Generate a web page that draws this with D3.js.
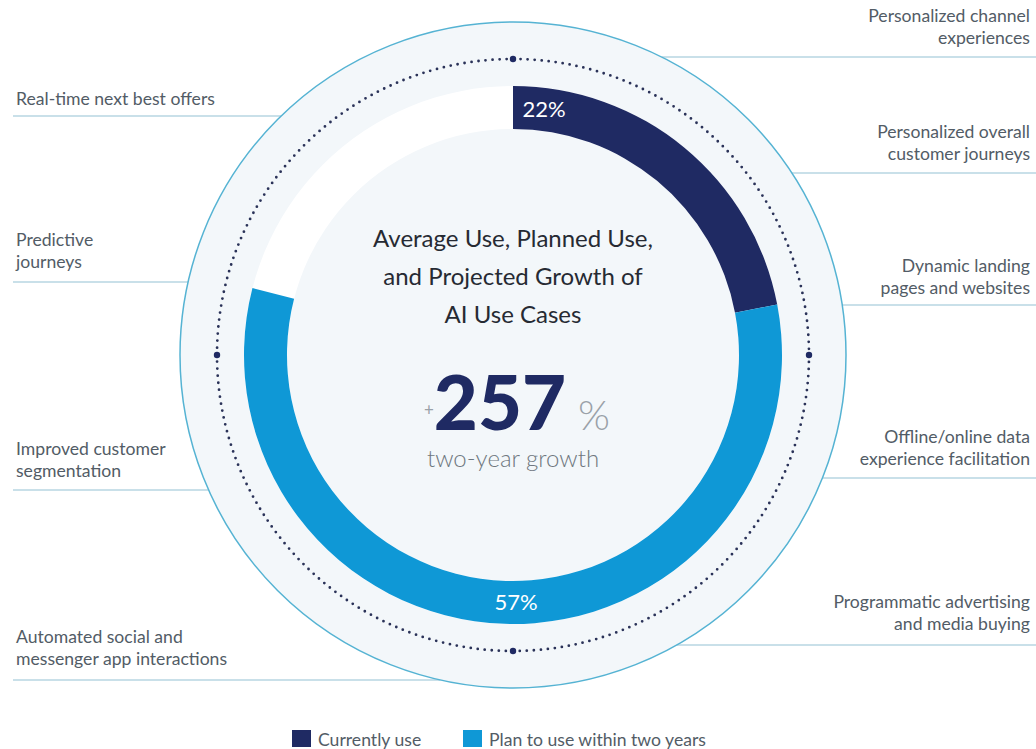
<!DOCTYPE html>
<html>
<head>
<meta charset="utf-8">
<script src="https://cdn.jsdelivr.net/npm/d3@7/dist/d3.min.js"></script>
<style>
  html, body { margin: 0; padding: 0; background: #ffffff; }
  svg { display: block; }
  text { font-family: Lato, "Open Sans", sans-serif; }
</style>
</head>
<body>
<svg id="chart" width="1036" height="749"></svg>
<script>
// ---- data ----
const seriesNames = ["Currently use", "Plan to use within two years"];
const seriesValues = [22, 57];           // percent of AI use cases
const growthValue = 257;                 // projected two-year growth, percent
const titleLines = ["Average Use, Planned Use,", "and Projected Growth of", "AI Use Cases"];
const growthCaption = "two-year growth";
const leftUseCases = [
  ["Real-time next best offers"],
  ["Predictive", "journeys"],
  ["Improved customer", "segmentation"],
  ["Automated social and", "messenger app interactions"]
];
const rightUseCases = [
  ["Personalized channel", "experiences"],
  ["Personalized overall", "customer journeys"],
  ["Dynamic landing", "pages and websites"],
  ["Offline/online data", "experience facilitation"],
  ["Programmatic advertising", "and media buying"]
];

// ---- layout ----
const W = 1036, H = 749;
const cx = 513, cy = 355;
const rOuter = 333, rDots = 296, rRingOut = 269, rRingIn = 226;
const leftRuleY = [116, 282, 490, 680];
const leftTextY = [105, 246, 455, 643];
const rightRuleY = [57, 173, 305, 478, 645];
const rightTextY = [22, 138, 272, 443, 608];
const lineGap = 21.5;
const labelSize = 17.6;

const colors = ["#1f2a63", "#0f98d6"];
const labelColor = "#525c66";
const ruleColor = "#b7d6e2";

const svg = d3.select("#chart");

// callout rules, drawn first so the disc sits on top of them
const edgeX = (y, side) => cx + side * Math.sqrt(Math.max(0, rOuter * rOuter - (y - cy) * (y - cy)));
const rules = svg.append("g").attr("stroke", ruleColor).attr("stroke-width", 1.5);
leftRuleY.forEach(y => rules.append("line").attr("x1", 13).attr("x2", edgeX(y, -1)).attr("y1", y).attr("y2", y));
rightRuleY.forEach(y => rules.append("line").attr("x1", edgeX(y, 1)).attr("x2", W).attr("y1", y).attr("y2", y));

// callout texts
const labelG = svg.append("g").attr("fill", labelColor).attr("font-size", labelSize);
leftUseCases.forEach((lines, i) => {
  const t = labelG.append("text").attr("x", 16).attr("y", leftTextY[i]).attr("text-anchor", "start");
  lines.forEach((s, j) => t.append("tspan").attr("x", 16).attr("y", leftTextY[i] + j * lineGap).text(s));
});
rightUseCases.forEach((lines, i) => {
  const t = labelG.append("text").attr("x", 1030).attr("y", rightTextY[i]).attr("text-anchor", "end");
  lines.forEach((s, j) => t.append("tspan").attr("x", 1030).attr("y", rightTextY[i] + j * lineGap).text(s));
});

// disc
const g = svg.append("g").attr("transform", `translate(${cx},${cy})`);
g.append("circle").attr("r", rOuter).attr("fill", "#f3f7fa").attr("stroke", "#55b3d3").attr("stroke-width", 1.5);

// dotted guide ring with cardinal markers
g.append("circle").attr("r", rDots).attr("fill", "none")
  .attr("stroke", "#2a3258").attr("stroke-width", 2.8)
  .attr("stroke-linecap", "round")
  .attr("stroke-dasharray", `0 ${(2 * Math.PI * rDots / 264).toFixed(3)}`);
[[0, -rDots], [rDots, 0], [0, rDots], [-rDots, 0]].forEach(([x, y]) =>
  g.append("circle").attr("cx", x).attr("cy", y).attr("r", 3.2).attr("fill", "#1f2a63"));

// ring track and value arcs
const angle = d3.scaleLinear().domain([0, 100]).range([0, 2 * Math.PI]);
const arc = d3.arc().innerRadius(rRingIn).outerRadius(rRingOut);
g.append("path").attr("d", arc({ startAngle: 0, endAngle: 2 * Math.PI })).attr("fill", "#ffffff");

let acc = 0;
const segs = seriesValues.map((v, i) => {
  const s = { start: acc, end: acc + v, value: v, color: colors[i] };
  acc += v;
  return s;
});
g.selectAll("path.seg").data(segs).join("path")
  .attr("class", "seg")
  .attr("d", d => arc({ startAngle: angle(d.start), endAngle: angle(d.end) }))
  .attr("fill", d => d.color);

// value labels on the arcs
const rMid = (rRingIn + rRingOut) / 2;
const labelAt = [segs[0].start + 2, segs[1].start + 28];
segs.forEach((d, i) => {
  const a = angle(labelAt[i]);
  g.append("text")
    .attr("x", rMid * Math.sin(a) + (i === 1 ? 3 : 0))
    .attr("y", -rMid * Math.cos(a))
    .attr("dy", "0.36em")
    .attr("text-anchor", "middle")
    .attr("fill", "#ffffff")
    .attr("font-size", 22)
    .text(d.value + "%");
});

// centre title and headline figure
const title = g.append("text").attr("text-anchor", "middle").attr("fill", "#262a33").attr("font-size", 24);
titleLines.forEach((s, j) => title.append("tspan").attr("x", 0).attr("y", 247 - cy + j * 38).text(s));

const big = g.append("text").attr("text-anchor", "middle").attr("y", 430 - cy).attr("dx", 4);
big.append("tspan").attr("font-size", 17).attr("fill", "#9aa1a8").attr("dy", -14).text("+");
big.append("tspan").attr("font-size", 76).attr("font-weight", 900).attr("fill", "#1f2a63").attr("dy", 14).text(growthValue);
big.append("tspan").attr("font-size", 41).attr("font-weight", 300).attr("fill", "#9aa1a8").attr("dx", 12).text("%");

g.append("text").attr("text-anchor", "middle").attr("y", 467 - cy)
  .attr("font-size", 24).attr("font-weight", 300).attr("fill", "#6f7780").text(growthCaption);

// legend
const legendX = [292, 463];
const legend = svg.append("g");
seriesNames.forEach((name, i) => {
  legend.append("rect").attr("x", legendX[i]).attr("y", 730).attr("width", 19).attr("height", 17).attr("fill", colors[i]);
  legend.append("text").attr("x", legendX[i] + 26).attr("y", 746).attr("font-size", labelSize).attr("fill", labelColor).text(name);
});
</script>
</body>
</html>
